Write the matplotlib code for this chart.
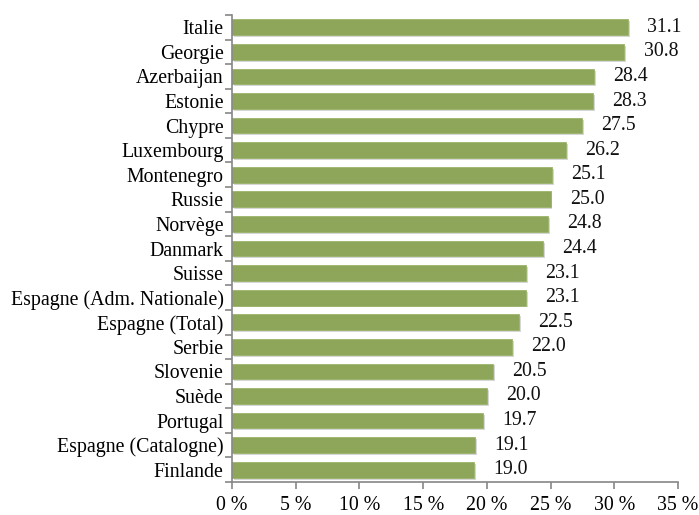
import matplotlib
matplotlib.use("Agg")
import matplotlib.pyplot as plt
import numpy as np

countries = ["Italie", "Georgie", "Azerbaijan", "Estonie", "Chypre", "Luxembourg",
             "Montenegro", "Russie", "Norvège", "Danmark", "Suisse",
             "Espagne (Adm. Nationale)", "Espagne (Total)", "Serbie", "Slovenie",
             "Suède", "Portugal", "Espagne (Catalogne)", "Finlande"]
values = [31.1, 30.8, 28.4, 28.3, 27.5, 26.2, 25.1, 25.0, 24.8, 24.4, 23.1,
          23.1, 22.5, 22.0, 20.5, 20.0, 19.7, 19.1, 19.0]
xticks = [0, 5, 10, 15, 20, 25, 30, 35]
xticklabels = ["0 %", "5 %", "10 %", "15 %", "20 %", "25 %", "30 %", "35 %"]

plt.rcParams['font.family'] = ['Liberation Serif', 'DejaVu Serif']
FS = 14.3

fig = plt.figure(figsize=(6.99, 5.15), dpi=100)
ax = fig.add_axes([232/699, 33/515, 446/699, 467/515])

n = len(countries)
y = np.arange(n)
h = 0.64
# shadow
ax.barh(y + 0.08, values, height=h, left=0.15, color='#bbbbbb', alpha=0.6, zorder=1)
ax.barh(y, values, height=h, color='#8ea65a', edgecolor='#9bb46a', linewidth=0.6, zorder=2)

for yi, v in zip(y, values):
    ax.text(v + 1.5, yi, f"{v:.1f}", va='center', ha='left', fontsize=FS, color='#111111')

ax.set_xlim(0, 35)
ax.set_ylim(n - 0.5, -0.5)
ax.set_xticks(xticks)
ax.set_xticklabels(xticklabels, fontsize=FS)
ax.set_yticks(y)
ax.set_yticklabels(countries, fontsize=FS)
ax.set_yticks(np.arange(n + 1) - 0.5, minor=True)
ax.tick_params(axis='y', which='major', length=0, pad=6)
ax.tick_params(axis='y', which='minor', length=5, color='#868686', width=1.2)
ax.tick_params(axis='x', which='major', length=5, color='#868686', width=1.2, pad=5)
for s in ['top', 'right']:
    ax.spines[s].set_visible(False)
for s in ['left', 'bottom']:
    ax.spines[s].set_color('#868686')
    ax.spines[s].set_linewidth(1.2)

fig.savefig("out.png", dpi=100)
